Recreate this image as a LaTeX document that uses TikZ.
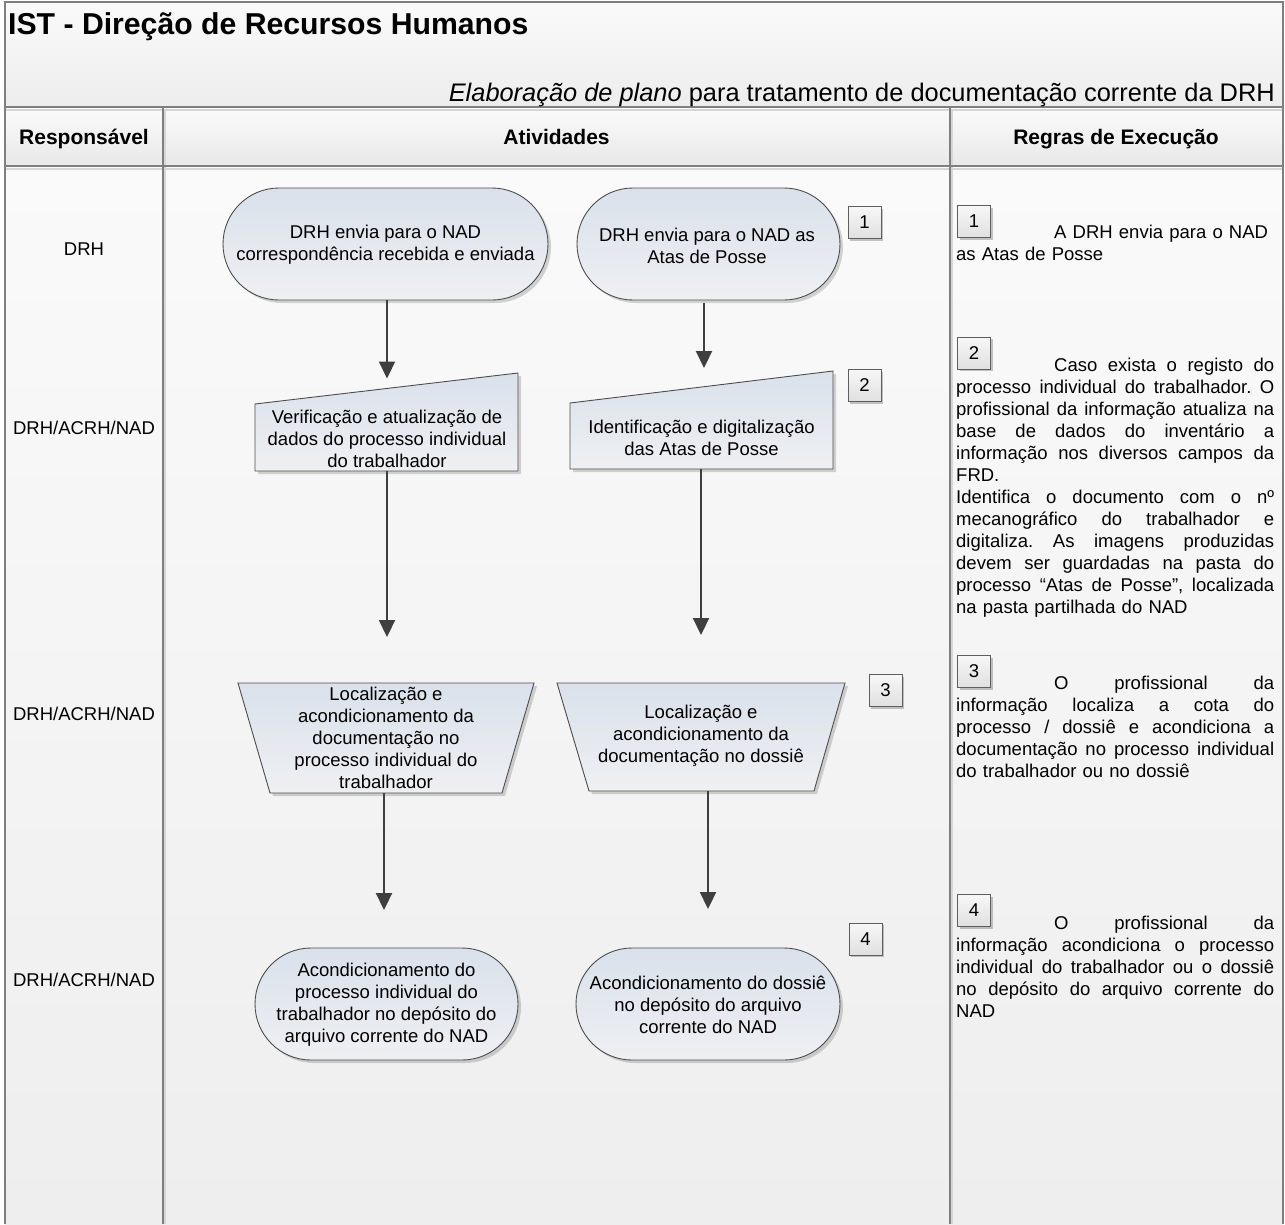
\documentclass[tikz,border=0pt]{standalone}
\usepackage{fontspec}
\setmainfont{Liberation Sans}
\usetikzlibrary{arrows.meta,shadows}
\definecolor{framec}{HTML}{7F7F7F}
\definecolor{litec}{HTML}{D6D6D6}
\definecolor{edgec}{HTML}{4D4D4D}
\definecolor{shA}{HTML}{DAE1EB}
\definecolor{shB}{HTML}{EEF0F3}
\definecolor{nbA}{HTML}{F7F7F7}
\definecolor{nbB}{HTML}{E0E0E0}
\definecolor{nbEdge}{HTML}{5E5E5E}
\definecolor{arrc}{HTML}{3F3F3F}
\definecolor{ttA}{HTML}{FAFAFA}
\definecolor{ttB}{HTML}{EDEDED}
\definecolor{hdA}{HTML}{FBFBFB}
\definecolor{hdB}{HTML}{E8E8E8}
\definecolor{bdA}{HTML}{FAFAFA}
\definecolor{bdB}{HTML}{EEEEEE}
\frenchspacing
\newcommand{\jl}[1]{\leavevmode\hbox to 318pt{\spaceskip=0.278em plus 1fil\xspaceskip=\spaceskip #1}}
\newcommand{\jf}[1]{\leavevmode\hbox to 318pt{\hskip 98pt\spaceskip=0.278em plus 1fil\xspaceskip=\spaceskip #1}}
\begin{document}
\begin{tikzpicture}[x=1pt,y=-1pt,
  bodyfont/.style={font=\fontsize{18.5}{22}\selectfont, text=black},
  shp/.style={draw=edgec, line width=0.9pt, top color=shA, bottom color=shB,
    drop shadow={shadow xshift=3pt, shadow yshift=-3pt, fill=black, opacity=0.16}},
  stxt/.style={bodyfont, align=center, inner sep=0pt},
  numbox/.style={bodyfont, draw=nbEdge, line width=0.8pt, top color=nbA, bottom color=nbB,
    minimum width=33pt, minimum height=32pt, inner sep=0pt,
    drop shadow={shadow xshift=2pt, shadow yshift=-2pt, fill=black, opacity=0.22}},
  arr/.style={draw=arrc, line width=2.2pt, -{Triangle[length=17pt,width=16pt]}},
  lane/.style={bodyfont, anchor=base, inner sep=0pt},
  hdr/.style={font=\bfseries\fontsize{21}{25}\selectfont, anchor=base, inner sep=0pt},
  ruletext/.style={bodyfont, text width=318pt, align=left, anchor=base west, inner sep=0pt},
  framel/.style={draw=framec, line width=1.3pt},
  litel/.style={draw=litec, line width=2pt}]
\useasboundingbox (0,0) rectangle (1285,1224);
% backgrounds
\fill[white] (0,0) rectangle (1285,1224);
\shade[top color=ttA, bottom color=ttB] (5,2) rectangle (1283,107);
\shade[top color=hdA, bottom color=hdB] (5,107) rectangle (1283,166);
\shade[top color=bdA, bottom color=bdB] (5,166) rectangle (1283,1224);
% lines
\draw[litel] (5,109.5) -- (1283,109.5);
\draw[litel] (5,168.5) -- (1283,168.5);
\draw[litel] (165.2,110) -- (165.2,1224);
\draw[litel] (952.2,110) -- (952.2,1224);
\draw[framel] (5,107) -- (1283,107);
\draw[framel] (5,166) -- (1283,166);
\draw[framel] (163,107) -- (163,1224);
\draw[framel] (950,107) -- (950,1224);
\draw[framel] (5,1224) -- (5,2) -- (1283,2) -- (1283,1224);
% title
\node[font=\bfseries\fontsize{30.2}{36}\selectfont, anchor=base west, inner sep=0pt] (title) at (8,34) {IST - Direção de Recursos Humanos};
\node[font=\fontsize{25.4}{30}\selectfont, anchor=base east, inner sep=0pt] (subtitle) at (1275,101) {{\itshape Elaboração de plano} para tratamento de documentação corrente da DRH};
% headers
\node[hdr] (h1) at (84,144) {Responsável};
\node[hdr] (h2) at (556.5,144) {Atividades};
\node[hdr] (h3) at (1116,144) {Regras de Execução};
% lanes
\node[lane] (l1) at (84,255.5) {DRH};
\node[lane] (l2) at (84,434.5) {DRH/ACRH/NAD};
\node[lane] (l3) at (84,720.5) {DRH/ACRH/NAD};
\node[lane] (l4) at (84,986.5) {DRH/ACRH/NAD};
% shapes
\path[shp, rounded corners=56pt] (223,188) rectangle (548,300);
\path[shp, rounded corners=56pt] (577,188) rectangle (840,300);
\path[shp] (255,404) -- (518,373) -- (518,471) -- (255,471) -- cycle;
\path[shp] (570,403) -- (833,371) -- (833,469) -- (570,469) -- cycle;
\path[shp] (238,683) -- (534,683) -- (502,793) -- (270,793) -- cycle;
\path[shp] (557,683) -- (845,683) -- (814,791) -- (589,791) -- cycle;
\path[shp, rounded corners=56pt] (255,948) rectangle (518,1060);
\path[shp, rounded corners=56pt] (576,948) rectangle (840,1060);
% shape texts
\node[stxt] (t1) at (385.5,244.5) {DRH envia para o NAD\\correspondência recebida e enviada};
\node[stxt] (t2) at (707,246) {DRH envia para o NAD as\\Atas de Posse};
\node[stxt] (m1) at (387,439) {Verificação e atualização de\\dados do processo individual\\do trabalhador};
\node[stxt] (m2) at (701.5,437.5) {Identificação e digitalização\\das Atas de Posse};
\node[stxt] (tr1) at (386,737.5) {Localização e\\acondicionamento da\\documentação no\\processo individual do\\trabalhador};
\node[stxt] (tr2) at (701,736) {Localização e\\acondicionamento da\\documentação no dossiê};
\node[stxt] (b1) at (386.5,1004.5) {Acondicionamento do\\processo individual do\\trabalhador no depósito do\\arquivo corrente do NAD};
\node[stxt] (b2) at (708,1004.5) {Acondicionamento do dossiê\\no depósito do arquivo\\corrente do NAD};
% connectors
\draw[arr] ([xshift=1.5pt,yshift=-55.5pt]t1.center) -- ([yshift=60.5pt]m1.center);
\draw[arr] ([xshift=-3pt,yshift=-57pt]t2.center) -- ([xshift=2.5pt,yshift=69.5pt]m2.center);
\draw[arr] ([yshift=-32pt]m1.center) -- ([xshift=1pt,yshift=100.5pt]tr1.center);
\draw[arr] ([xshift=-0.5pt,yshift=-31.5pt]m2.center) -- ([yshift=101pt]tr2.center);
\draw[arr] ([xshift=-2pt,yshift=-55.5pt]tr1.center) -- ([xshift=-2.5pt,yshift=94.5pt]b1.center);
\draw[arr] ([xshift=7pt,yshift=-55pt]tr2.center) -- ([yshift=95.5pt]b2.center);
% number boxes (activities)
\node[numbox] (n1) at (864.5,222.5) {1};
\node[numbox] (n2) at (864.5,385.5) {2};
\node[numbox] (n3) at (885.5,690.5) {3};
\node[numbox] (n4) at (865.5,939) {4};
% number boxes (rules)
\node[numbox] (q1) at (974,221.5) {1};
\node[numbox] (q2) at (974,353) {2};
\node[numbox] (q3) at (974,671.5) {3};
\node[numbox] (q4) at (974,910.5) {4};
% rule texts
\node[ruletext] (g1) at (956,238) {\hspace*{98pt}A DRH envia para o NAD\\as Atas de Posse};
\node[ruletext] (g2) at (956,371) {\jf{Caso exista o registo do}\\
\jl{processo individual do trabalhador. O}\\
\jl{profissional da informação atualiza na}\\
\jl{base de dados do inventário a}\\
\jl{informação nos diversos campos da}\\
FRD.\\
\jl{Identifica o documento com o nº}\\
\jl{mecanográfico do trabalhador e}\\
\jl{digitaliza. As imagens produzidas}\\
\jl{devem ser guardadas na pasta do}\\
\jl{processo “Atas de Posse”, localizada}\\
na pasta partilhada do NAD};
\node[ruletext] (g3) at (956,689) {\jf{O profissional da}\\
\jl{informação localiza a cota do}\\
\jl{processo / dossiê e acondiciona a}\\
\jl{documentação no processo individual}\\
do trabalhador ou no dossiê};
\node[ruletext] (g4) at (956,929) {\jf{O profissional da}\\
\jl{informação acondiciona o processo}\\
\jl{individual do trabalhador ou o dossiê}\\
\jl{no depósito do arquivo corrente do}\\
NAD};
\end{tikzpicture}
\end{document}
